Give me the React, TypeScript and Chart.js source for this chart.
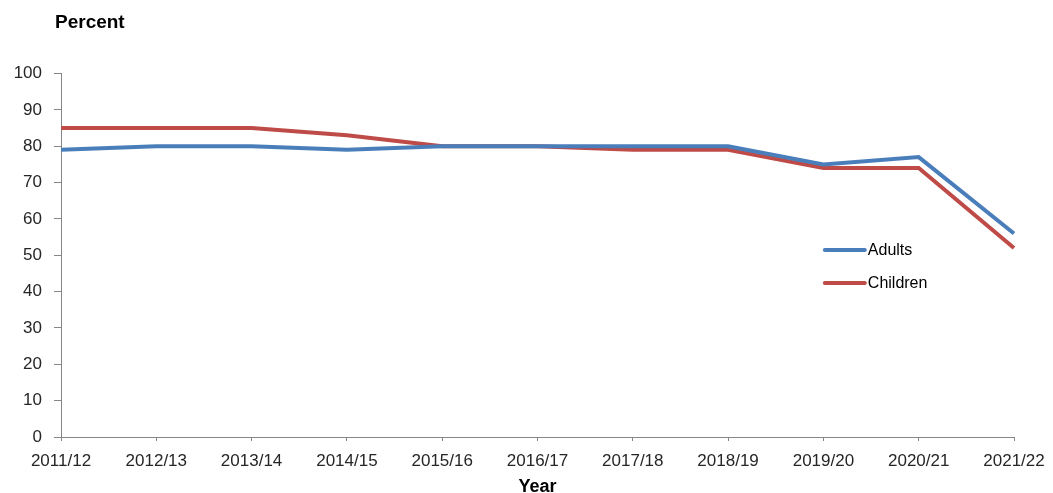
import React, { useEffect, useRef } from "react";
import { Chart, registerables } from "chart.js";

Chart.register(...registerables);

const categories = ["2011/12", "2012/13", "2013/14", "2014/15", "2015/16", "2016/17", "2017/18", "2018/19", "2019/20", "2020/21", "2021/22"];
const adults = [79, 80, 80, 79, 80, 80, 80, 80, 75, 77, 56];
const children = [85, 85, 85, 83, 80, 80, 79, 79, 74, 74, 52];
const seriesNames = ["Adults", "Children"];
const seriesColors = ["#4A7EBB", "#BE4B48"];
const yTitle = "Percent";
const xTitle = "Year";

const FONT = "Liberation Sans, Arial, sans-serif";

export default function App() {
  const ref = useRef<HTMLCanvasElement>(null);
  useEffect(() => {
    document.body.style.margin = "0";
    const overlay = {
      id: "overlay",
      afterDraw(chart: any) {
        const ctx = chart.ctx;
        const a = chart.chartArea;
        ctx.save();
        ctx.fillStyle = "#000";
        ctx.font = `bold 19px ${FONT}`;
        ctx.textBaseline = "middle";
        ctx.textAlign = "left";
        ctx.fillText(yTitle, 55, 23);
        // legend
        const lx = a.left + (a.right - a.left) * 0.8015;
        const ys = [250, 283];
        ctx.font = `16px ${FONT}`;
        seriesNames.forEach((n, i) => {
          ctx.strokeStyle = seriesColors[i];
          ctx.lineWidth = 4;
          ctx.lineCap = "round";
          ctx.beginPath();
          ctx.moveTo(lx, ys[i]);
          ctx.lineTo(lx + 40, ys[i]);
          ctx.stroke();
          ctx.fillStyle = "#000";
          ctx.fillText(n, lx + 43, ys[i] + 1);
        });
        ctx.restore();
      },
    };
    const chart = new Chart(ref.current!, {
      type: "line",
      data: {
        labels: categories,
        datasets: [
          { label: seriesNames[0], data: adults, borderColor: seriesColors[0], backgroundColor: seriesColors[0], borderWidth: 4, pointRadius: 0, tension: 0 },
          { label: seriesNames[1], data: children, borderColor: seriesColors[1], backgroundColor: seriesColors[1], borderWidth: 4, pointRadius: 0, tension: 0 },
        ],
      },
      options: {
        animation: false,
        responsive: false,
        layout: { padding: { top: 73.5, right: 39, left: 0, bottom: 0 } },
        plugins: { legend: { display: false }, tooltip: { enabled: false } },
        scales: {
          x: {
            offset: false,
            afterFit(scale: any) {
              scale.height = 56;
              scale.paddingLeft = 0;
              scale.paddingRight = 0;
            },
            grid: { display: true, drawOnChartArea: false, drawTicks: true, tickLength: 4, color: "#868686" },
            border: { color: "#868686", width: 1 },
            ticks: { color: "#262626", font: { family: FONT, size: 17, lineHeight: 1 }, padding: 12, maxRotation: 0, autoSkip: false },
            title: { display: true, text: xTitle, color: "#000", font: { family: FONT, size: 18, weight: "bold", lineHeight: 1 }, padding: { top: 0, bottom: -3 } },
          },
          y: {
            min: 0,
            max: 100,
            afterFit(scale: any) { scale.width = 61; },
            grid: { display: true, drawOnChartArea: false, drawTicks: true, tickLength: 7, color: "#868686" },
            border: { color: "#868686", width: 1 },
            ticks: { stepSize: 10, color: "#262626", font: { family: FONT, size: 17 }, padding: 12 },
          },
        },
      },
      plugins: [overlay],
    });
    return () => chart.destroy();
  }, []);
  return (
    <div style={{ width: 1053, height: 493 }}>
      <canvas ref={ref} width={1053} height={493} />
    </div>
  );
}
